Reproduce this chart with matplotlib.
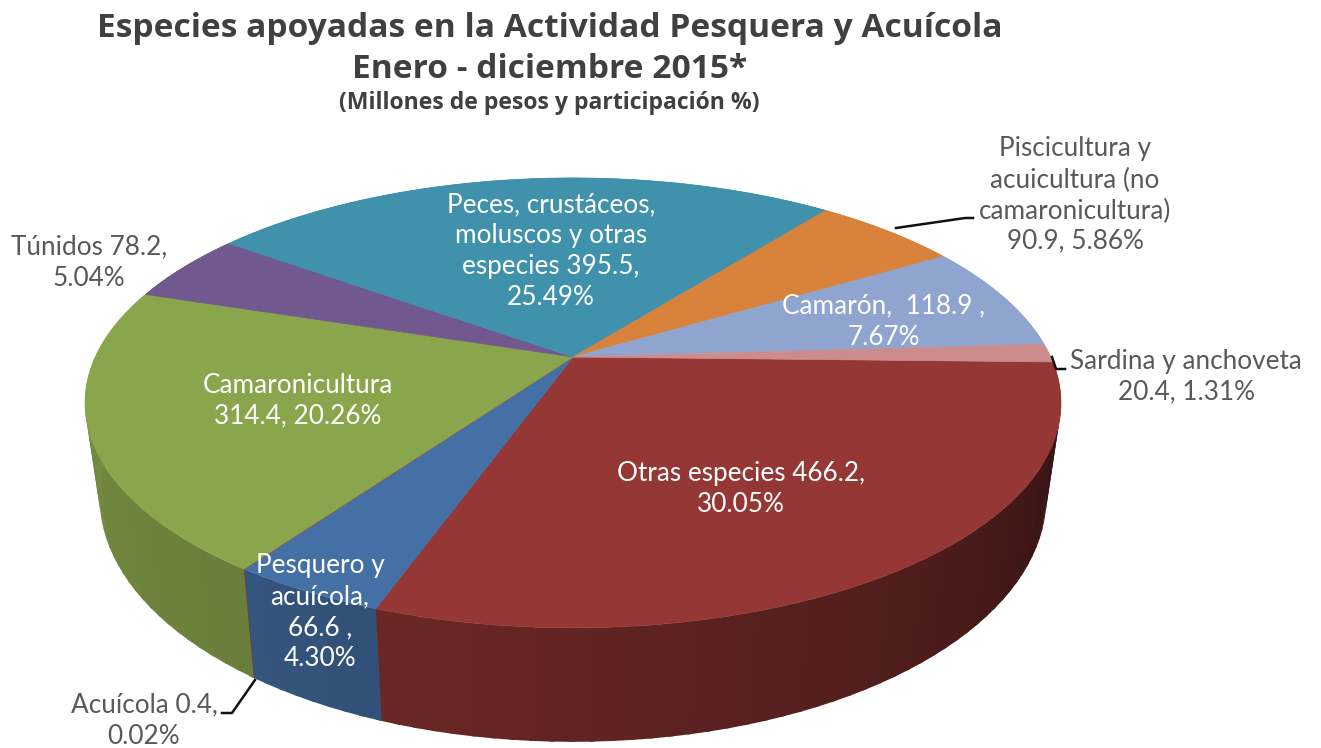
import numpy as np
import matplotlib
matplotlib.use('Agg')
import matplotlib.pyplot as plt
from matplotlib.colors import to_rgb

especies = ['Otras especies', 'Pesquero y acuícola', 'Acuícola', 'Camaronicultura', 'Túnidos',
            'Peces, crustáceos, moluscos y otras especies', 'Piscicultura y acuicultura', 'Camarón', 'Sardina y anchoveta']
valores = [466.2, 66.6, 0.4, 314.4, 78.2, 395.5, 90.9, 118.9, 20.4]
colores = ['#953735', '#4570a6', '#aa4643', '#8aa64d', '#71588f', '#3f91ac', '#d9823b', '#8fa5cf', '#cd8c8c']

titulo1 = 'Especies apoyadas en la Actividad Pesquera y Acuícola'
titulo2 = 'Enero - diciembre 2015*'
titulo3 = '(Millones de pesos y participación %)'

# pie geometry in pixels, with a simple perspective
cx, cy = 573, 357
A, B, k = 477.7, 215.6, 0.204
H = 90.7
escala_base = 0.97
inicio = -1.3


def arriba(t):
    t = np.radians(t)
    w = 1 + k * np.sin(t)
    return cx + A * np.cos(t) / w, cy - B * np.sin(t) / w


def abajo(t):
    t = np.radians(t)
    w = 1 + k * np.sin(t)
    return cx + escala_base * A * np.cos(t) / w, cy + (H - B * np.sin(t)) / w


def sombra(t):
    t = (t + 360) % 360 - 360
    return np.interp(t, [-290, -200, -125, -110, -60, -20, 0], [.9, .88, .76, .72, .55, .38, .38])


fig = plt.figure(figsize=(13.21, 7.48), dpi=100)
ax = fig.add_axes([0, 0, 1, 1])
ax.set_xlim(0, 1321)
ax.set_ylim(748, 0)
ax.axis('off')

angulos = inicio - np.cumsum([0] + valores) / sum(valores) * 360

# side wall, small strips so the shade can change along the rim
for i, c in enumerate(colores):
    a0, a1 = angulos[i], angulos[i + 1]
    n = max(2, int(abs(a0 - a1) / 2) + 2)
    t = np.linspace(a0, a1, n)
    base = np.array(to_rgb(c))
    for j in range(n - 1):
        # each strip runs a bit under the next one, no seams that way
        ts = np.linspace(t[j], t[j + 1] - 0.6, 6)
        x1, y1 = arriba(ts)
        x2, y2 = abajo(ts[::-1])
        col = tuple(base * sombra((t[j] + t[j + 1]) / 2))
        ax.fill(np.r_[x1, x2], np.r_[y1, y2], color=col, lw=0, zorder=1)

# top of the pie
for i, c in enumerate(colores):
    t = np.linspace(angulos[i], angulos[i + 1], 200)
    x, y = arriba(t)
    ax.fill(np.r_[cx, x], np.r_[cy, y], color=c, lw=0.5, zorder=2)

# leader lines
negro = '#111111'
ax.plot([896, 965, 973], [228, 218, 218], color=negro, lw=1.8, zorder=3)
ax.plot([1052, 1056, 1065], [357, 369, 369], color=negro, lw=1.8, zorder=3)
ax.plot([255, 232, 222], [680, 713, 713], color=negro, lw=1.8, zorder=3)

fuente = 'Lato'
gris = '#595959'
blanco = '#ffffff'


def rotulo(x, ys, lineas, color):
    for y, s in zip(ys, lineas):
        ax.text(x, y, s, ha='center', va='center', fontsize=18.8, color=color, family=fuente, zorder=4)


rotulo(1075, [148, 180, 211, 241], ['Piscicultura y', 'acuicultura (no', 'camaronicultura)', '90.9, 5.86%'], gris)
rotulo(89, [247, 278], ['Túnidos 78.2,', '5.04%'], gris)
rotulo(551, [205, 235, 266, 297], ['Peces, crustáceos,', 'moluscos y otras', 'especies 395.5,', '25.49%'], blanco)
rotulo(884, [306, 337], ['Camarón,  118.9 ,', '7.67%'], blanco)
rotulo(1186, [361, 392], ['Sardina y anchoveta', '20.4, 1.31%'], gris)
rotulo(298, [385, 416], ['Camaronicultura', '314.4, 20.26%'], blanco)
rotulo(741, [473, 504], ['Otras especies 466.2,', '30.05%'], blanco)
rotulo(320, [566, 597, 628, 658], ['Pesquero y', 'acuícola,', '66.6 ,', '4.30%'], blanco)
rotulo(144, [705, 737], ['Acuícola 0.4,', '0.02%'], gris)

oscuro = '#404040'
titulo_f = 'Open Sans'
ax.text(550, 28, titulo1, ha='center', va='center', fontsize=24.1, fontweight='bold', color=oscuro, family=titulo_f)
ax.text(550, 69, titulo2, ha='center', va='center', fontsize=24.1, fontweight='bold', color=oscuro, family=titulo_f)
ax.text(549, 103, titulo3, ha='center', va='center', fontsize=16.6, fontweight='bold', color=oscuro, family=titulo_f)

fig.savefig('out.png', dpi=100)
